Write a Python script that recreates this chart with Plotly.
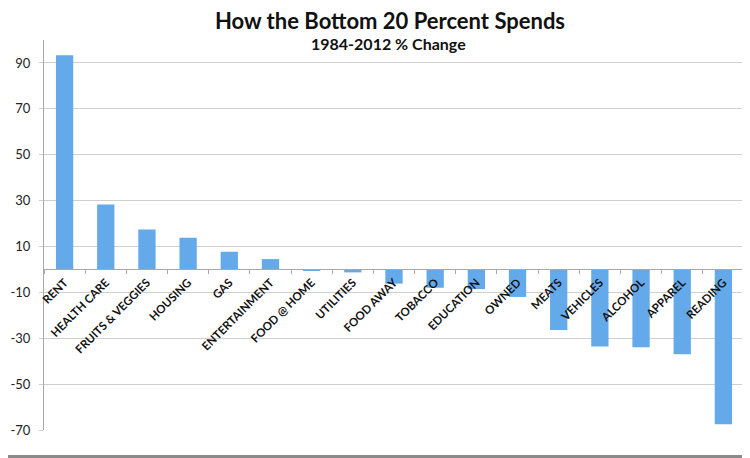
import plotly.graph_objects as go

categories = ["RENT", "HEALTH CARE", "FRUITS & VEGGIES", "HOUSING", "GAS", "ENTERTAINMENT",
              "FOOD @ HOME", "UTILITIES", "FOOD AWAY", "TOBACCO", "EDUCATION", "OWNED",
              "MEATS", "VEHICLES", "ALCOHOL", "APPAREL", "READING"]
pct_change = [93.4, 28.3, 17.4, 13.8, 7.7, 4.5, -0.5, -1.3, -6.2, -8.0, -8.6, -12.0,
              -26.4, -33.6, -33.9, -37.0, -67.5]
y_ticks = [90, 70, 50, 30, 10, -10, -30, -50, -70]
title_text = "How the Bottom 20 Percent Spends"
subtitle_text = "1984-2012 % Change"

# page has an 8px body margin, so the figure is sized to fill the rest of the window
OFF = 8
W, H = 750 - OFF, 458 - OFF
ML, MR, MT, MB = 44 - OFF, 6, 40 - OFF, 28
ymin, ymax = -70, 100
plot_h = H - MT - MB
plot_w = W - ML - MR


def py(page_y):
    """page pixel y -> paper fraction"""
    return (H - MB - (page_y - OFF)) / plot_h


def px(page_x):
    return (page_x - OFF - ML) / plot_w


fig = go.Figure()
fig.add_trace(go.Bar(
    x=categories, y=pct_change, width=0.42,
    marker=dict(color="#64aaeb", line=dict(width=0)),
    hoverinfo="x+y",
))

font = "Lato, 'Open Sans', sans-serif"

fig.update_layout(
    width=W, height=H,
    margin=dict(l=ML, r=MR, t=MT, b=MB, autoexpand=False),
    paper_bgcolor="white", plot_bgcolor="white",
    showlegend=False,
    font=dict(family=font, color="#111"),
    xaxis=dict(
        type="category", range=[-0.5, len(categories) - 0.5],
        anchor="free", position=(0 - ymin) / (ymax - ymin),
        showline=True, linecolor="#a8a8a8", linewidth=1,
        ticks="outside", tickson="boundaries", ticklen=4, tickcolor="#a8a8a8",
        tickangle=-45, ticklabelstandoff=1,
        tickfont=dict(family=font, size=11.5, color="#111", weight="bold"),
        showgrid=False, zeroline=False,
    ),
    yaxis=dict(
        range=[ymin, ymax], tickvals=y_ticks, ticktext=[str(v) for v in y_ticks],
        showgrid=True, gridcolor="#cfcfcf", gridwidth=1,
        showline=True, linecolor="#a8a8a8", linewidth=1,
        ticks="outside", ticklen=4, tickcolor="#cfcfcf",
        ticklabelstandoff=6,
        tickfont=dict(family=font, size=13, color="#222"),
        zeroline=False,
    ),
    annotations=[
        dict(text="<b>" + title_text + "</b>", xref="paper", yref="paper",
             x=px(390), y=py(21), xanchor="center", yanchor="middle",
             showarrow=False, font=dict(family=font, size=22, color="#111")),
        dict(text="<b>" + subtitle_text + "</b>", xref="paper", yref="paper",
             x=px(388), y=py(44), xanchor="center", yanchor="middle",
             showarrow=False, font=dict(family=font, size=16, color="#111")),
    ],
    shapes=[
        dict(type="line", xref="paper", yref="paper", layer="above",
             x0=px(0), x1=px(750), y0=py(456.5), y1=py(456.5),
             line=dict(color="#8a8a8a", width=3)),
    ],
)

fig.write_html("out.html")
